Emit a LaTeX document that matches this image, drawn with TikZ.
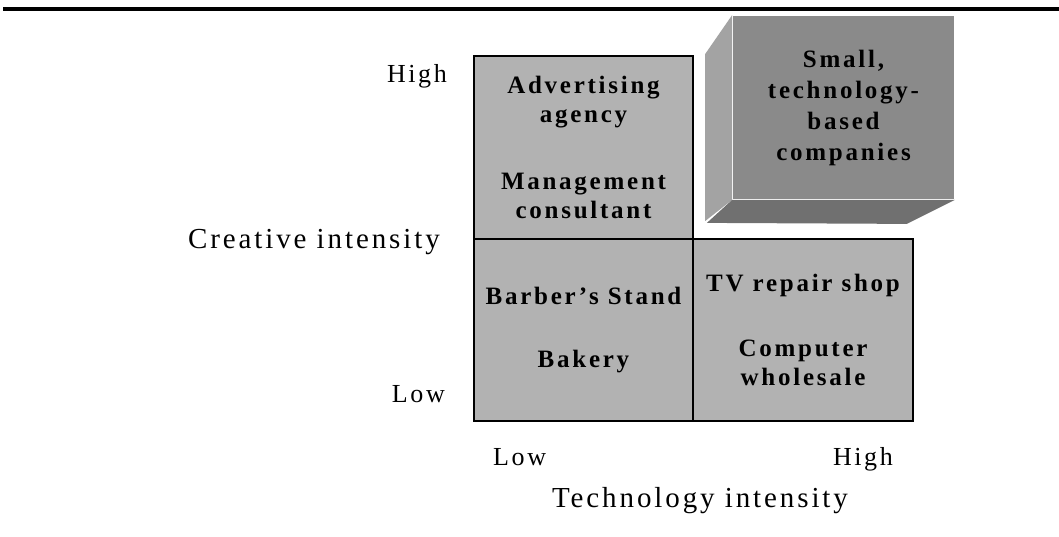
\documentclass[tikz,border=0pt]{standalone}
\usepackage{fontspec}
\setmainfont{Liberation Serif}
\newfontfamily\axisfont[LetterSpace=10]{Liberation Serif}
\newfontfamily\cellfont[LetterSpace=11]{Liberation Serif}
\definecolor{cellgray}{HTML}{B2B2B2}
\definecolor{frontgray}{HTML}{8A8A8A}
\definecolor{sidegray}{HTML}{A3A3A3}
\definecolor{basegray}{HTML}{707070}

\begin{document}
\begin{tikzpicture}[x=1pt, y=-1pt,
    cell/.style={draw, line width=1.8pt, fill=cellgray, inner sep=0pt, align=center,
      font=\cellfont\bfseries\fontsize{25}{29}\selectfont},
    tick/.style={inner sep=0pt, font=\axisfont\fontsize{26}{30}\selectfont},
    axis/.style={inner sep=0pt, font=\axisfont\fontsize{29}{34}\selectfont}]
    \useasboundingbox (0,0) rectangle (1059,537);
    \draw[line width=3.5pt] (3,9) -- (1059,9);

    % the four cells
    \node[cell, minimum width=219pt, minimum height=183pt] (creative) at (583.5,147.5)
      {Advertising\\agency\\[38pt]Management\\consultant};
    \node[cell, minimum width=219pt, minimum height=182pt] (craft) at (583.5,330)
      {Barber’s Stand\\[34pt]Bakery};
    \node[cell, minimum width=220pt, minimum height=182pt] (tech) at (803,330)
      {TV repair shop\\[36pt]Computer\\wholesale};

    % raised box, front face first, then its two sides
    \node[cell, draw=none, fill=frontgray, minimum width=221pt, minimum height=183pt,
      font=\cellfont\bfseries\fontsize{25}{31}\selectfont] (small) at (843.5,107.5)
      {Small,\\technology-\\based\\companies};
    \fill[sidegray] (small.north west) -- ++(-27,39) -- ++(0,167) -- (small.south west) -- cycle;
    \fill[basegray] (small.south west) -- (small.south east) -- ++(-48,24) -- ++(-200,-1) -- cycle;

    % axes
    \node[tick, anchor=base east] (highc) at (447,83) {High};
    \node[tick, anchor=base east] (lowc) at (445,402) {Low};
    \node[axis, anchor=base east] (ctitle) at (440,248) {Creative intensity};
    \node[tick, anchor=base west] (lowt) at (493,465) {Low};
    \node[tick, anchor=base east] (hight) at (893,465) {High};
    \node[axis, anchor=base] (ttitle) at (700,507) {Technology intensity};
\end{tikzpicture}
\end{document}
